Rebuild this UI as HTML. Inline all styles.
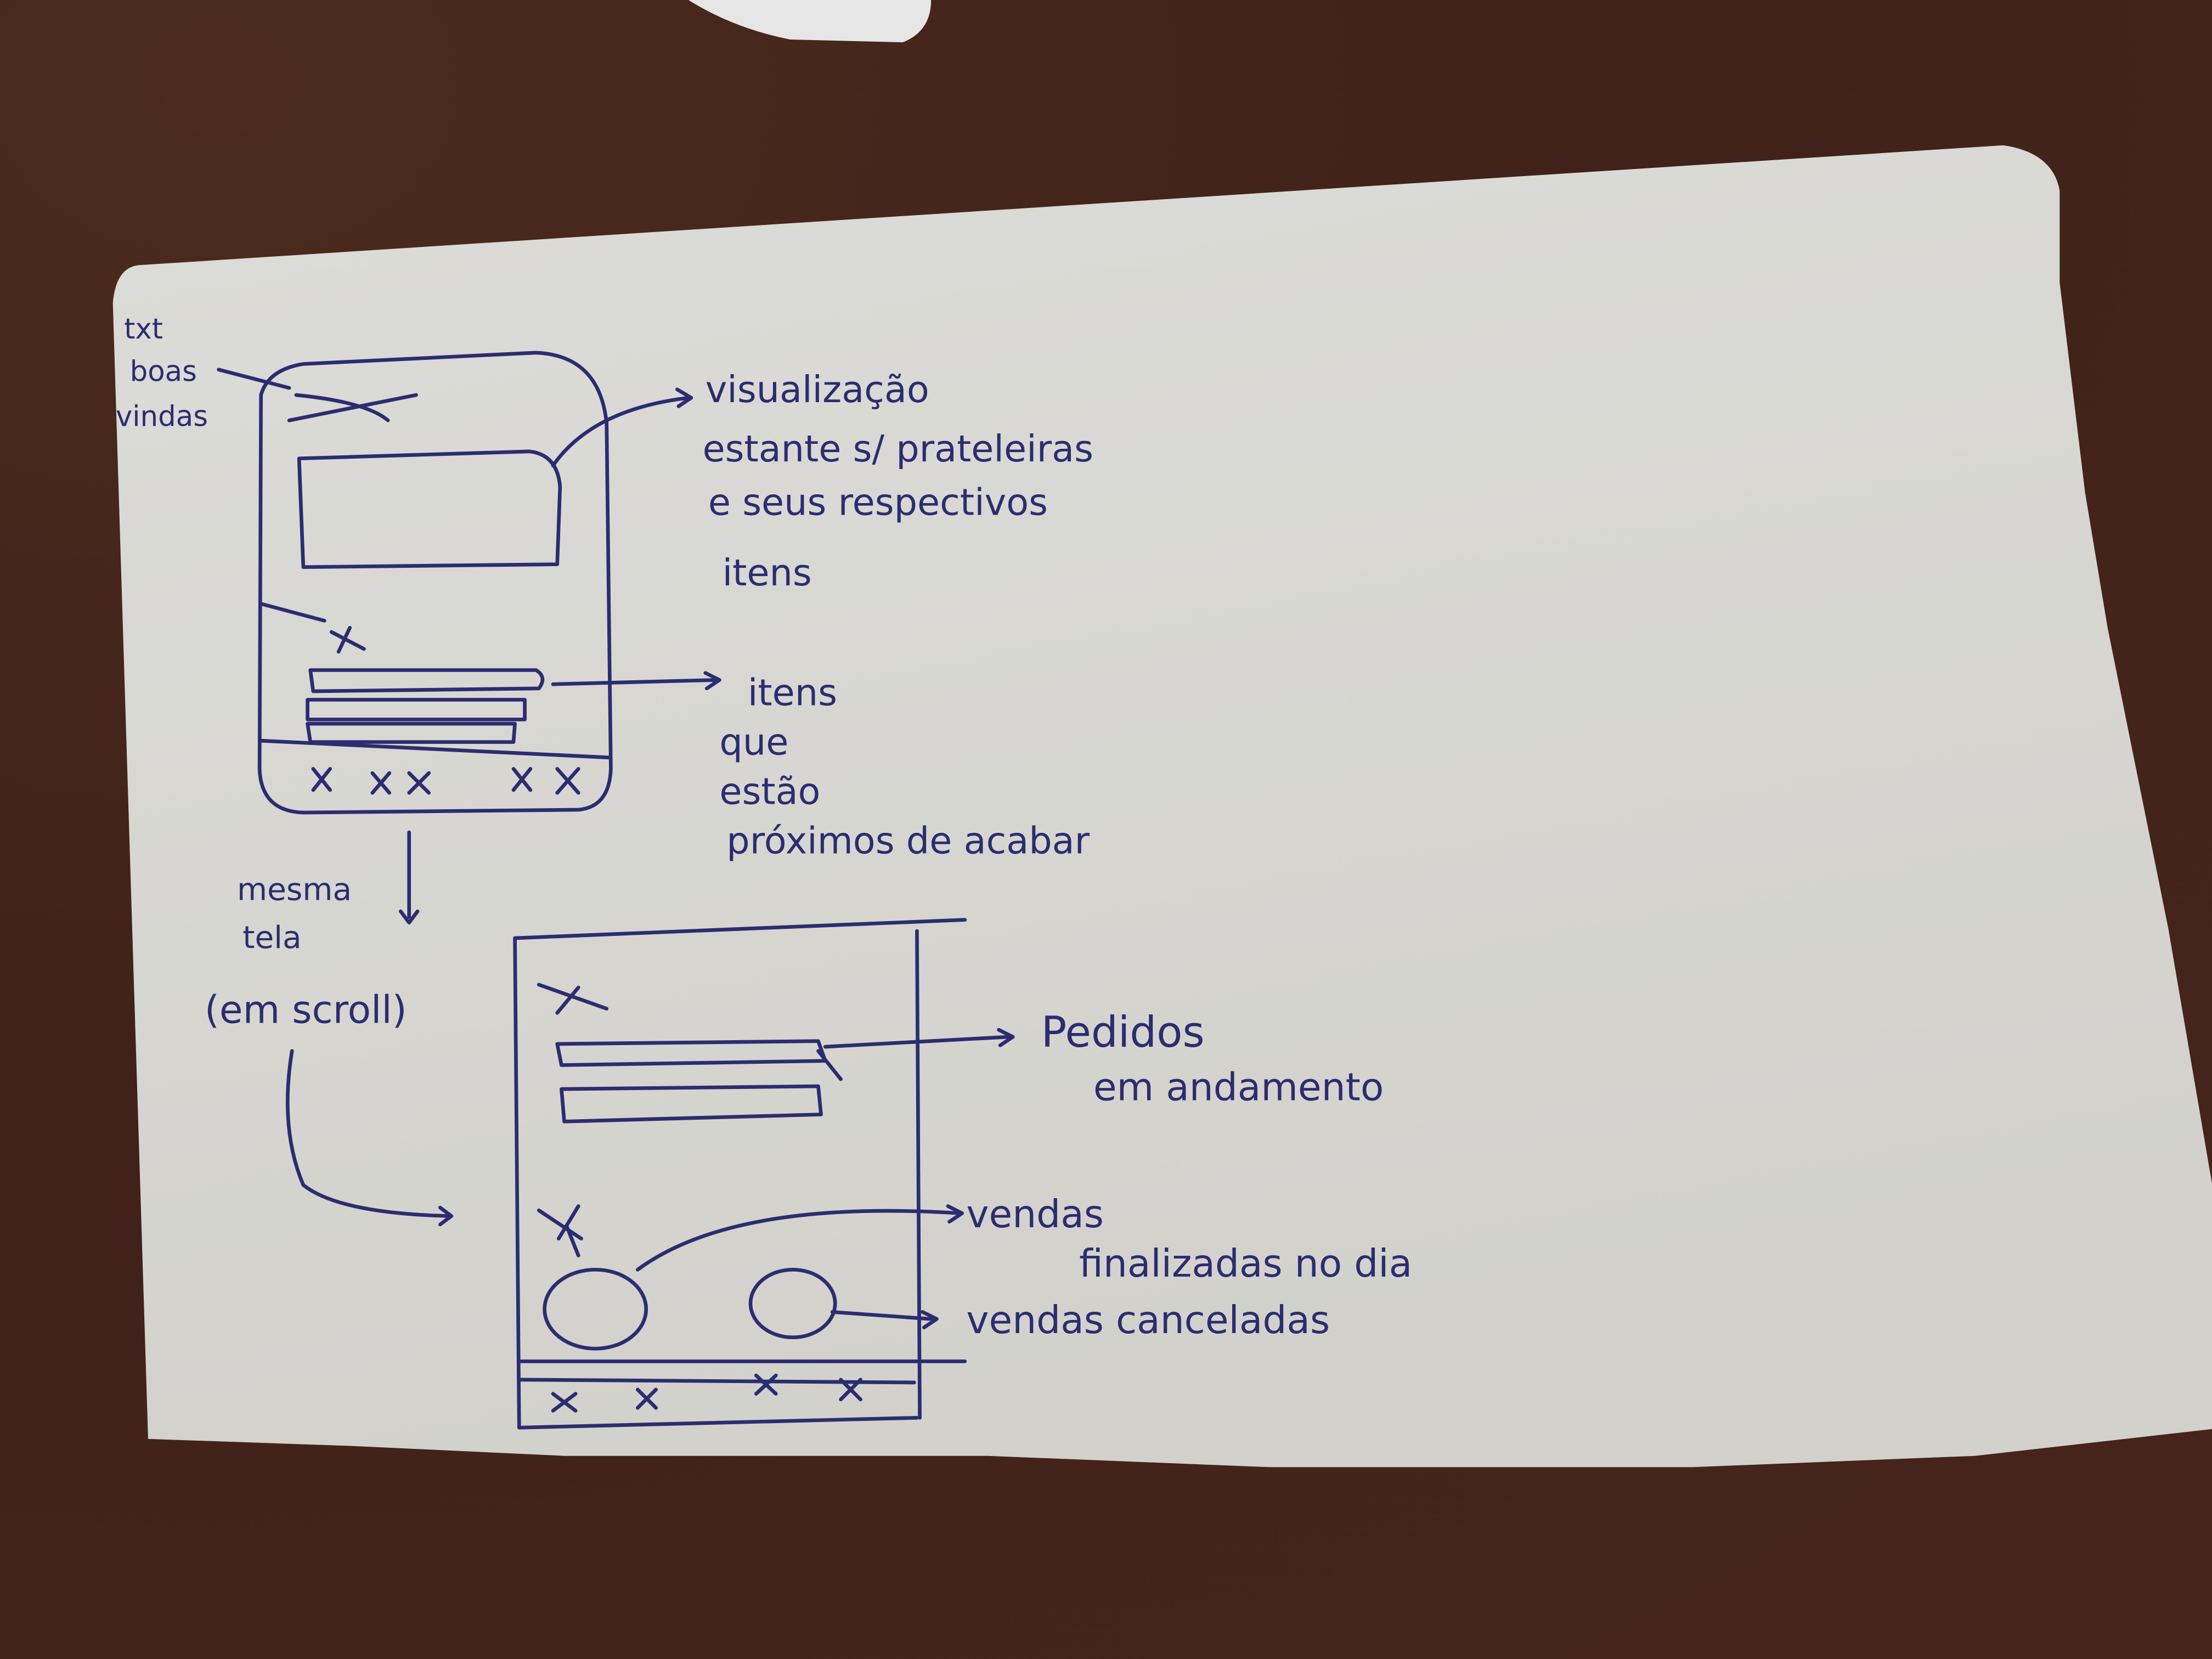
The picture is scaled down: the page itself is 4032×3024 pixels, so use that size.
<!DOCTYPE html>
<html><head><meta charset="utf-8">
<style>
html,body{margin:0;padding:0;width:4032px;height:3024px;overflow:hidden;background:#3d2119;}
svg{display:block}
text{font-family:"DejaVu Sans","Liberation Sans",sans-serif;fill:#2c2c70;}
</style></head>
<body>
<svg width="4032" height="3024" viewBox="0 0 1568 1176" xmlns="http://www.w3.org/2000/svg">
<defs>
<radialGradient id="bg" cx="0.1" cy="0.05" r="1.2">
<stop offset="0" stop-color="#4c2b1e"/>
<stop offset="0.5" stop-color="#40221a"/>
<stop offset="1" stop-color="#46241b"/>
</radialGradient>
<linearGradient id="pp" x1="0" y1="0" x2="0.3" y2="1">
<stop offset="0" stop-color="#dcdcd8"/>
<stop offset="1" stop-color="#d2d1cc"/>
</linearGradient>
</defs>
<rect width="1568" height="1176" fill="url(#bg)"/>
<path d="M488,0 L660,0 Q660,22 640,30 L560,28 Q520,20 488,0Z" fill="#e6e6e6"/>
<path d="M98,188 L1420,103 Q1455,108 1460,135 L1460,200 L1478,349 L1494,445 L1537,658 L1568,839 L1568,1013 L1400,1032 L1200,1040 L900,1040 L700,1032 L400,1032 L250,1025 L105,1020 L95,700 L80,215 Q82,190 98,188Z" fill="url(#pp)"/>
<g fill="none" stroke="#2c2c70" stroke-width="2.6" stroke-linecap="round" stroke-linejoin="round">
<path d="M185,280 Q190,262 215,258 L380,250 Q425,252 430,300 L433,545 Q432,572 410,574 L215,576 Q185,575 184,545 Z"/>
<path d="M184,525 L432,537"/>
<path d="M205,298 L295,280 M210,280 Q260,285 275,298"/>
<path d="M212,325 L375,320 Q395,322 397,345 L395,400 L215,402 Z"/>
<path d="M185,428 L230,440 M235,448 L258,460 M248,445 L240,462"/>
<path d="M220,475 L380,475 Q388,480 382,488 L222,490 Z"/>
<path d="M218,496 L372,496 L372,510 L218,510 Z"/>
<path d="M218,513 L365,513 L364,526 L220,526 Z"/>
<path d="M222,545 L234,560 M234,545 L222,560 M264,548 L276,562 M276,548 L264,562 M290,548 L304,562 M304,548 L290,562 M364,545 L376,560 M376,545 L364,560 M395,545 L410,562 M410,545 L395,562"/>
<path d="M155,262 L205,275"/>
<path d="M392,330 Q420,290 488,282 M480,276 L490,282 L481,288"/>
<path d="M392,485 L508,482 M500,477 L510,482 L501,488"/>
<path d="M290,590 L290,650 M284,646 L290,654 L296,646"/>
<path d="M207,745 Q198,800 215,840 Q240,860 318,862 M312,856 L320,862 L312,868"/>
<path d="M365,665 L684,652 M365,665 L368,1012 L650,1005 M650,660 L652,1005"/>
<path d="M368,965 L684,965 M368,978 L648,980"/>
<path d="M392,988 L408,1000 M408,988 L392,1000 M452,985 L465,998 M465,985 L452,998 M536,975 L550,988 M550,975 L536,988 M596,978 L610,992 M610,978 L596,992"/>
<path d="M382,698 L430,715 M395,718 L410,700"/>
<path d="M395,740 L580,738 L585,752 L398,755 Z"/>
<path d="M398,772 L580,770 L582,790 L400,795 Z"/>
<path d="M580,745 L596,765"/>
<path d="M585,742 L715,735 M708,730 L718,735 L709,741"/>
<path d="M382,858 L412,878 M396,878 L410,855 M402,870 L410,890"/>
<ellipse cx="422" cy="928" rx="36" ry="28"/>
<ellipse cx="562" cy="924" rx="30" ry="24"/>
<path d="M452,900 Q520,850 680,860 M672,855 L682,860 L673,866"/>
<path d="M590,930 L660,935 M654,930 L664,935 L655,941"/>
</g>
<g font-size="26">
<text x="88" y="240" font-size="20">txt</text>
<text x="92" y="270" font-size="20">boas</text>
<text x="82" y="302" font-size="20">vindas</text>
<text x="500" y="285">visualização</text>
<text x="498" y="327">estante s/ prateleiras</text>
<text x="502" y="365">e seus respectivos</text>
<text x="512" y="415">itens</text>
<text x="530" y="500">itens</text>
<text x="510" y="535">que</text>
<text x="510" y="570">estão</text>
<text x="515" y="605">próximos de acabar</text>
<text x="168" y="638" font-size="22">mesma</text>
<text x="172" y="672" font-size="22">tela</text>
<text x="145" y="725" font-size="27">(em scroll)</text>
<text x="738" y="742" font-size="30">Pedidos</text>
<text x="775" y="780" font-size="27">em andamento</text>
<text x="685" y="870" font-size="27">vendas</text>
<text x="765" y="905" font-size="27">finalizadas no dia</text>
<text x="685" y="945" font-size="27">vendas canceladas</text>
</g>
</svg>
</body></html>
